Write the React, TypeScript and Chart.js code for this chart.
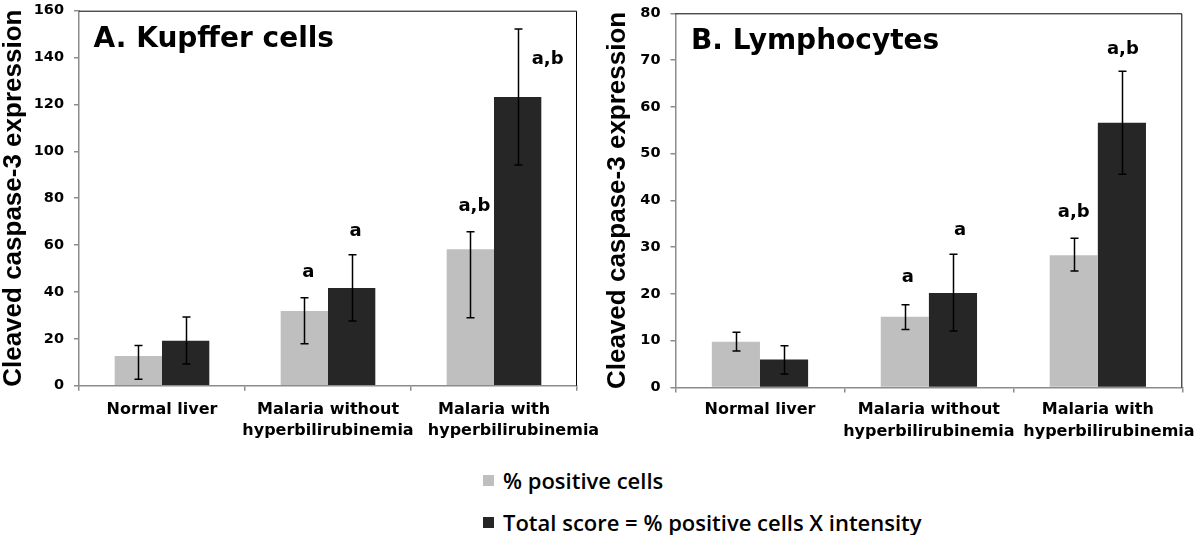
import React, { useEffect, useRef } from "react";
import { Chart, registerables } from "chart.js";

Chart.register(...registerables);

// ---------- data ----------
const seriesNames = ["% positive cells", "Total score = % positive cells X intensity"];
const seriesColors = ["#bfbfbf", "#262626"];
const yAxisTitle = "Cleaved caspase-3 expression";

const kupfferTitle = "A. Kupffer cells";
const kupfferLabels = [
  ["Normal liver"],
  ["Malaria without", "hyperbilirubinemia"],
  ["Malaria with", "       hyperbilirubinemia"],
];
const kupfferPositive = [12.7, 31.9, 58.2];
const kupfferPositiveLow = [2.7, 17.9, 29.0];
const kupfferPositiveHigh = [17.1, 37.5, 65.7];
const kupfferTotal = [19.2, 41.7, 123.2];
const kupfferTotalLow = [9.3, 27.6, 94.2];
const kupfferTotalHigh = [29.3, 55.9, 152.2];
const kupfferMax = 160;
const kupfferStep = 20;
// [text, category index, series index, value at label centre]
const kupfferMarks: [string, number, number, number][] = [
  ["a", 1, 0, 48.5],
  ["a", 1, 1, 66],
  ["a,b", 2, 0, 76.7],
  ["a,b", 2, 1, 139.4],
];

const lymphoTitle = "B. Lymphocytes";
const lymphoLabels = [
  ["Normal liver"],
  ["Malaria without", "hyperbilirubinemia"],
  ["Malaria with", "    hyperbilirubinemia"],
];
const lymphoPositive = [9.8, 15.1, 28.3];
const lymphoPositiveLow = [7.8, 12.4, 24.9];
const lymphoPositiveHigh = [11.8, 17.7, 31.9];
const lymphoTotal = [6.0, 20.2, 56.6];
const lymphoTotalLow = [2.9, 12.1, 45.6];
const lymphoTotalHigh = [8.9, 28.5, 67.6];
const lymphoMax = 80;
const lymphoStep = 10;
const lymphoMarks: [string, number, number, number][] = [
  ["a", 1, 0, 23.6],
  ["a", 1, 1, 33.6],
  ["a,b", 2, 0, 37.5],
  ["a,b", 2, 1, 72.3],
];

// ---------- styling / layout ----------
const AXIS = "#8c8c8c";
const HEAD = "'DejaVu Sans', sans-serif";

const panels = [
  {
    left: 0,
    title: kupfferTitle,
    labels: kupfferLabels,
    positive: kupfferPositive,
    positiveLow: kupfferPositiveLow,
    positiveHigh: kupfferPositiveHigh,
    total: kupfferTotal,
    totalLow: kupfferTotalLow,
    totalHigh: kupfferTotalHigh,
    max: kupfferMax,
    step: kupfferStep,
    marks: kupfferMarks,
    markShift: [4, 4, 4, 30],
    padTop: 10.7,
    padRight: 23,
    yWidth: 79,
    xHeight: 64.3,
    xPad: 8,
    titlePad: 1,
    headX: 14.6,
    headY: 47,
  },
  {
    left: 600,
    title: lymphoTitle,
    labels: lymphoLabels,
    positive: lymphoPositive,
    positiveLow: lymphoPositiveLow,
    positiveHigh: lymphoPositiveHigh,
    total: lymphoTotal,
    totalLow: lymphoTotalLow,
    totalHigh: lymphoTotalHigh,
    max: lymphoMax,
    step: lymphoStep,
    marks: lymphoMarks,
    markShift: [3, 7, 0, 1],
    padTop: 13.3,
    padRight: 17.7,
    yWidth: 75.5,
    xHeight: 62.5,
    xPad: 7,
    titlePad: 4.8,
    headX: 15.5,
    headY: 49,
  },
];

type PanelCfg = (typeof panels)[number];

function makeOverlay(cfg: PanelCfg) {
  return {
    id: "overlay",
    afterDatasetsDraw(chart: any) {
      const { ctx, chartArea } = chart;
      const y = chart.scales.y;
      ctx.save();
      // top and right frame
      ctx.strokeStyle = "#000";
      ctx.lineWidth = 1;
      ctx.beginPath();
      ctx.moveTo(chartArea.left, chartArea.top + 0.5);
      ctx.lineTo(chartArea.right - 0.5, chartArea.top + 0.5);
      ctx.lineTo(chartArea.right - 0.5, chartArea.bottom);
      ctx.stroke();

      // error bars
      const errs = [
        [cfg.positiveLow, cfg.positiveHigh],
        [cfg.totalLow, cfg.totalHigh],
      ];
      ctx.strokeStyle = "#000";
      ctx.lineWidth = 1.5;
      errs.forEach(([lo, hi], di) => {
        const meta = chart.getDatasetMeta(di);
        meta.data.forEach((bar: any, i: number) => {
          const x = Math.round(bar.x) + 0.5;
          const yl = y.getPixelForValue(lo[i]);
          const yh = y.getPixelForValue(hi[i]);
          ctx.beginPath();
          ctx.moveTo(x, yh);
          ctx.lineTo(x, yl);
          ctx.moveTo(x - 4, yh);
          ctx.lineTo(x + 4, yh);
          ctx.moveTo(x - 4, yl);
          ctx.lineTo(x + 4, yl);
          ctx.stroke();
        });
      });

      // significance letters
      ctx.fillStyle = "#000";
      ctx.font = `bold 18px ${HEAD}`;
      ctx.textAlign = "center";
      ctx.textBaseline = "middle";
      cfg.marks.forEach(([text, cat, ds, val], k) => {
        const bar: any = chart.getDatasetMeta(ds).data[cat];
        ctx.fillText(text, bar.x + cfg.markShift[k], y.getPixelForValue(val));
      });

      // panel heading
      ctx.font = `bold 28px ${HEAD}`;
      ctx.textAlign = "left";
      ctx.textBaseline = "alphabetic";
      ctx.fillText(cfg.title, chartArea.left + cfg.headX, cfg.headY);
      ctx.restore();
    },
  };
}

function Panel({ cfg }: { cfg: PanelCfg }) {
  const ref = useRef<HTMLCanvasElement>(null);
  useEffect(() => {
    const chart = new Chart(ref.current as HTMLCanvasElement, {
      type: "bar",
      data: {
        labels: cfg.labels,
        datasets: [
          { label: seriesNames[0], data: cfg.positive, backgroundColor: seriesColors[0], borderWidth: 0 },
          { label: seriesNames[1], data: cfg.total, backgroundColor: seriesColors[1], borderWidth: 0 },
        ],
      },
      options: {
        responsive: false,
        animation: false,
        devicePixelRatio: 1,
        layout: { padding: { left: 0, right: cfg.padRight, top: cfg.padTop, bottom: 0 } },
        datasets: { bar: { categoryPercentage: 0.57, barPercentage: 1 } },
        plugins: { legend: { display: false }, tooltip: { enabled: false } },
        scales: {
          x: {
            type: "category",
            offset: true,
            grid: {
              offset: true,
              drawOnChartArea: false,
              drawTicks: true,
              tickLength: 5,
              color: AXIS,
              lineWidth: 1.5,
            },
            border: { color: AXIS, width: 1.5 },
            ticks: {
              color: "#000",
              font: { family: HEAD, size: 16, weight: "bold", lineHeight: 1.35 },
              padding: cfg.xPad,
              maxRotation: 0,
              minRotation: 0,
              autoSkip: false,
            },
            afterFit: (s: any) => {
              s.height = cfg.xHeight;
              s.paddingLeft = 0;
              s.paddingRight = 0;
            },
          },
          y: {
            min: 0,
            max: cfg.max,
            ticks: {
              stepSize: cfg.step,
              color: "#000",
              font: { family: HEAD, size: 14.5, weight: "bold" },
              padding: 10,
            },
            grid: {
              drawOnChartArea: false,
              drawTicks: true,
              tickLength: 5,
              color: AXIS,
              lineWidth: 1.5,
            },
            border: { color: AXIS, width: 1.5 },
            title: {
              display: true,
              text: yAxisTitle,
              color: "#000",
              font: { family: "'Liberation Sans', Arial, sans-serif", size: 26, weight: "bold", lineHeight: 1 },
              padding: { top: cfg.titlePad, bottom: 0 },
            },
            afterFit: (s: any) => {
              s.width = cfg.yWidth;
              s.paddingTop = 0;
              s.paddingBottom = 0;
            },
          },
        },
      } as any,
      plugins: [makeOverlay(cfg)],
    });
    return () => chart.destroy();
  }, []);
  return (
    <canvas
      ref={ref}
      width={600}
      height={450}
      style={{ position: "absolute", left: cfg.left, top: 0, width: 600, height: 450 }}
    />
  );
}

function LegendRow({ idx, top }: { idx: number; top: number }) {
  return (
    <div
      style={{
        position: "absolute",
        left: 483,
        top,
        height: 31,
        display: "flex",
        alignItems: "center",
        whiteSpace: "nowrap",
      }}
    >
      <span style={{ display: "inline-block", width: 11, height: 11, background: seriesColors[idx] }} />
      <span
        style={{
          marginLeft: 9,
          fontFamily: "'Open Sans', sans-serif",
          fontWeight: 600,
          fontSize: 22,
          lineHeight: "31px",
          color: "#000",
        }}
      >
        {seriesNames[idx]}
      </span>
    </div>
  );
}

export default function App() {
  return (
    <div
      style={{
        position: "absolute",
        left: 0,
        top: 0,
        width: 1200,
        height: 535,
        background: "#fff",
        overflow: "hidden",
      }}
    >
      <Panel cfg={panels[0]} />
      <Panel cfg={panels[1]} />
      <LegendRow idx={0} top={465} />
      <LegendRow idx={1} top={507} />
    </div>
  );
}
